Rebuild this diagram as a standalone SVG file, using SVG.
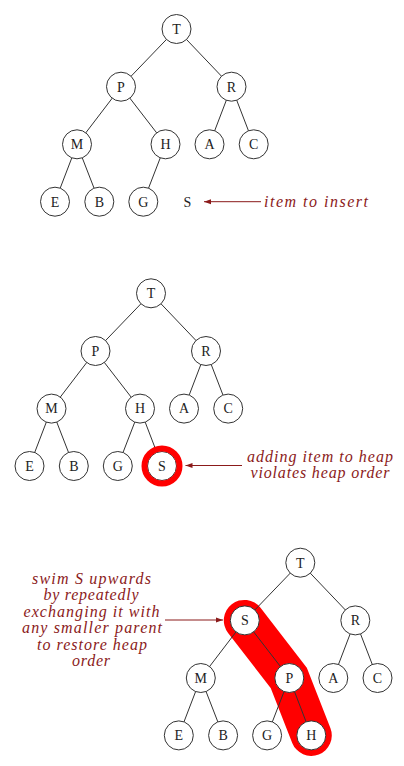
<svg xmlns="http://www.w3.org/2000/svg" width="404" height="766" viewBox="0 0 404 766">
<style>
.edge{stroke:#333;stroke-width:1;fill:none}
.node circle{fill:#fff;stroke:#333;stroke-width:1}
.node circle.ring{fill:none;stroke:#f00;stroke-width:6}
.node text{font-family:"Liberation Serif",serif;font-size:14px;fill:#222;text-anchor:middle}
.note{font-family:"Liberation Serif",serif;font-style:italic;font-size:16px;fill:#8b1a1a}
.arrow{stroke:#8b1a1a;stroke-width:1;fill:none;marker-end:url(#ah)}
</style>
<defs>
<marker id="ah" markerWidth="8" markerHeight="6" refX="7" refY="3" orient="auto" markerUnits="userSpaceOnUse">
<path d="M0,0.5 L7,3 L0,5.5 Z" fill="#8b1a1a"/>
</marker>
</defs>
<rect width="404" height="766" fill="#fff"/>

<!-- Tree 1 -->
<g id="tree1">
<g id="edges1">
<line class="edge" x1="176.5" y1="29" x2="121" y2="86.7"/>
<line class="edge" x1="176.5" y1="29" x2="231.5" y2="86.7"/>
<line class="edge" x1="121" y1="86.7" x2="77" y2="144.3"/>
<line class="edge" x1="121" y1="86.7" x2="165.5" y2="144.3"/>
<line class="edge" x1="231.5" y1="86.7" x2="209.5" y2="144.3"/>
<line class="edge" x1="231.5" y1="86.7" x2="253.7" y2="144.3"/>
<line class="edge" x1="77" y1="144.3" x2="55" y2="201.7"/>
<line class="edge" x1="77" y1="144.3" x2="99.3" y2="201.7"/>
<line class="edge" x1="165.5" y1="144.3" x2="143.3" y2="201.7"/>
<line class="arrow" x1="261" y1="201.7" x2="204" y2="201.7"/>
</g>
<g id="t1-T" class="node"><circle cx="176.5" cy="29" r="14.5"/><text x="176.5" y="33.8">T</text></g>
<g id="t1-P" class="node"><circle cx="121" cy="86.7" r="14.5"/><text x="121" y="91.5">P</text></g>
<g id="t1-R" class="node"><circle cx="231.5" cy="86.7" r="14.5"/><text x="231.5" y="91.5">R</text></g>
<g id="t1-M" class="node"><circle cx="77" cy="144.3" r="14.5"/><text x="77" y="149.1">M</text></g>
<g id="t1-H" class="node"><circle cx="165.5" cy="144.3" r="14.5"/><text x="165.5" y="149.1">H</text></g>
<g id="t1-A" class="node"><circle cx="209.5" cy="144.3" r="14.5"/><text x="209.5" y="149.1">A</text></g>
<g id="t1-C" class="node"><circle cx="253.7" cy="144.3" r="14.5"/><text x="253.7" y="149.1">C</text></g>
<g id="t1-E" class="node"><circle cx="55" cy="201.7" r="14.5"/><text x="55" y="206.5">E</text></g>
<g id="t1-B" class="node"><circle cx="99.3" cy="201.7" r="14.5"/><text x="99.3" y="206.5">B</text></g>
<g id="t1-G" class="node"><circle cx="143.3" cy="201.7" r="14.5"/><text x="143.3" y="206.5">G</text></g>
<g id="t1-S" class="node"><text x="187.5" y="206.5">S</text></g>
<text id="note1" class="note" x="264" y="206.5" textLength="104" lengthAdjust="spacing">item to insert</text>
</g>

<!-- Tree 2 -->
<g id="tree2">
<g id="edges2">
<line class="edge" x1="151" y1="293.3" x2="95.5" y2="351"/>
<line class="edge" x1="151" y1="293.3" x2="206" y2="351"/>
<line class="edge" x1="95.5" y1="351" x2="51.5" y2="408.6"/>
<line class="edge" x1="95.5" y1="351" x2="140" y2="408.6"/>
<line class="edge" x1="206" y1="351" x2="184" y2="408.6"/>
<line class="edge" x1="206" y1="351" x2="228.2" y2="408.6"/>
<line class="edge" x1="51.5" y1="408.6" x2="29.5" y2="466"/>
<line class="edge" x1="51.5" y1="408.6" x2="73.8" y2="466"/>
<line class="edge" x1="140" y1="408.6" x2="117.8" y2="466"/>
<line class="edge" x1="140" y1="408.6" x2="162" y2="466"/>
<line class="arrow" x1="242" y1="465.5" x2="185.5" y2="465.5"/>
</g>
<g id="t2-T" class="node"><circle cx="151" cy="293.3" r="14.5"/><text x="151" y="298.1">T</text></g>
<g id="t2-P" class="node"><circle cx="95.5" cy="351" r="14.5"/><text x="95.5" y="355.8">P</text></g>
<g id="t2-R" class="node"><circle cx="206" cy="351" r="14.5"/><text x="206" y="355.8">R</text></g>
<g id="t2-M" class="node"><circle cx="51.5" cy="408.6" r="14.5"/><text x="51.5" y="413.4">M</text></g>
<g id="t2-H" class="node"><circle cx="140" cy="408.6" r="14.5"/><text x="140" y="413.4">H</text></g>
<g id="t2-A" class="node"><circle cx="184" cy="408.6" r="14.5"/><text x="184" y="413.4">A</text></g>
<g id="t2-C" class="node"><circle cx="228.2" cy="408.6" r="14.5"/><text x="228.2" y="413.4">C</text></g>
<g id="t2-E" class="node"><circle cx="29.5" cy="466" r="14.5"/><text x="29.5" y="470.8">E</text></g>
<g id="t2-B" class="node"><circle cx="73.8" cy="466" r="14.5"/><text x="73.8" y="470.8">B</text></g>
<g id="t2-G" class="node"><circle cx="117.8" cy="466" r="14.5"/><text x="117.8" y="470.8">G</text></g>
<g id="t2-S" class="node"><circle cx="162" cy="466" r="14.5"/><circle class="ring" cx="162" cy="466" r="17.5"/><text x="162" y="470.8">S</text></g>
<g id="note2">
<text class="note" x="247" y="461.5" textLength="146" lengthAdjust="spacing">adding item to heap</text>
<text class="note" x="250.5" y="477.5" textLength="139" lengthAdjust="spacing">violates heap order</text>
</g>
</g>

<!-- Tree 3 -->
<g id="tree3">
<path id="swim-path" d="M244.3,620.4 L288.8,678 L311.3,735.4" fill="none" stroke="#f00" stroke-width="41" stroke-linecap="round" stroke-linejoin="miter"/>
<g id="edges3">
<line class="edge" x1="300.3" y1="562.7" x2="244.8" y2="620.4"/>
<line class="edge" x1="300.3" y1="562.7" x2="355.3" y2="620.4"/>
<line class="edge" x1="244.8" y1="620.4" x2="200.8" y2="678"/>
<line class="edge" x1="244.8" y1="620.4" x2="289.3" y2="678"/>
<line class="edge" x1="355.3" y1="620.4" x2="333.3" y2="678"/>
<line class="edge" x1="355.3" y1="620.4" x2="377.5" y2="678"/>
<line class="edge" x1="200.8" y1="678" x2="178.8" y2="735.4"/>
<line class="edge" x1="200.8" y1="678" x2="223.1" y2="735.4"/>
<line class="edge" x1="289.3" y1="678" x2="267.1" y2="735.4"/>
<line class="edge" x1="289.3" y1="678" x2="311.3" y2="735.4"/>
<line class="arrow" x1="165" y1="620" x2="223" y2="620"/>
</g>
<g id="t3-T" class="node"><circle cx="300.3" cy="562.7" r="14.5"/><text x="300.3" y="567.5">T</text></g>
<g id="t3-S" class="node"><circle cx="244.8" cy="620.4" r="14.5"/><text x="244.8" y="625.2">S</text></g>
<g id="t3-R" class="node"><circle cx="355.3" cy="620.4" r="14.5"/><text x="355.3" y="625.2">R</text></g>
<g id="t3-M" class="node"><circle cx="200.8" cy="678" r="14.5"/><text x="200.8" y="682.8">M</text></g>
<g id="t3-P" class="node"><circle cx="289.3" cy="678" r="14.5"/><text x="289.3" y="682.8">P</text></g>
<g id="t3-A" class="node"><circle cx="333.3" cy="678" r="14.5"/><text x="333.3" y="682.8">A</text></g>
<g id="t3-C" class="node"><circle cx="377.5" cy="678" r="14.5"/><text x="377.5" y="682.8">C</text></g>
<g id="t3-E" class="node"><circle cx="178.8" cy="735.4" r="14.5"/><text x="178.8" y="740.2">E</text></g>
<g id="t3-B" class="node"><circle cx="223.1" cy="735.4" r="14.5"/><text x="223.1" y="740.2">B</text></g>
<g id="t3-G" class="node"><circle cx="267.1" cy="735.4" r="14.5"/><text x="267.1" y="740.2">G</text></g>
<g id="t3-H" class="node"><circle cx="311.3" cy="735.4" r="14.5"/><text x="311.3" y="740.2">H</text></g>
<g id="note3">
<text class="note" x="32" y="583.5" textLength="119" lengthAdjust="spacing">swim S upwards</text>
<text class="note" x="43.5" y="600" textLength="95" lengthAdjust="spacing">by repeatedly</text>
<text class="note" x="23.5" y="616.5" textLength="136" lengthAdjust="spacing">exchanging it with</text>
<text class="note" x="22" y="633" textLength="140" lengthAdjust="spacing">any smaller parent</text>
<text class="note" x="37" y="649.5" textLength="110" lengthAdjust="spacing">to restore heap</text>
<text class="note" x="72" y="666" textLength="38" lengthAdjust="spacing">order</text>
</g>
</g>
</svg>
